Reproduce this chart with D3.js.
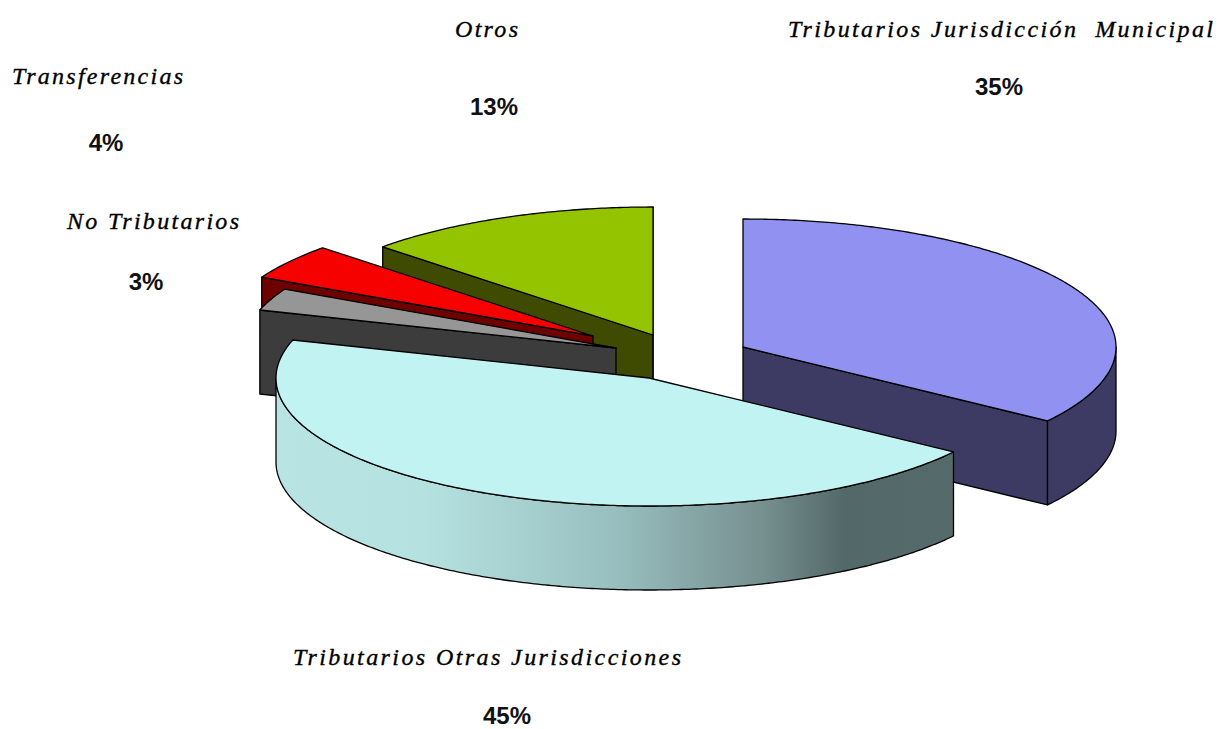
<!DOCTYPE html>
<html>
<head>
<meta charset="utf-8">
<script src="https://cdn.jsdelivr.net/npm/d3@7"></script>
<style>
  html, body { margin: 0; background: #fff; }
  .name { font: italic 24px "Liberation Serif", serif; white-space: pre; fill: #000; stroke: #000; stroke-width: 0.35px; }
  .pct  { font: bold 24px "Liberation Sans", Arial, sans-serif; fill: #111; text-anchor: middle; }
</style>
</head>
<body>
<div id="chart"></div>
<script>
// Valores
const categories = [
    'Tributarios Jurisdicción  Municipal',
    'Tributarios Otras Jurisdicciones',
    'No Tributarios',
    'Transferencias',
    'Otros'
];
const values   = [34.8, 45.0, 2.8, 4.5, 12.9];
const pctTexts = ['35%', '45%', '3%', '4%', '13%'];

const topColors  = ['#9191f2', '#c0f3f2', '#969696', '#f60000', '#94c300'];
const sideColors = ['#3d3b63', 'url(#wallCyan)', '#3c3c3c', '#6e0000', '#3f4b00'];

// Layout
const W = 1220, H = 729;
const RX = 373, RY = 128, DEPTH = 84;
const apex = [[743, 347], [649, 378], [616, 348], [593, 336], [653, 335]];
const namePos = [[788, 37], [293, 665], [67, 229], [12, 84], [455, 37]];
const nameLen = [425, 388, 172, 171, 63];
const pctPos  = [[999, 95], [507, 723.5], [146, 290], [106, 151], [494, 115]];

const svg = d3.select('#chart').append('svg')
    .attr('width', W).attr('height', H)
    .attr('viewBox', `0 0 ${W} ${H}`)
    .style('display', 'block');

// Degradado de la pared exterior celeste
const grad = svg.append('defs').append('linearGradient')
    .attr('id', 'wallCyan')
    .attr('gradientUnits', 'userSpaceOnUse')
    .attr('x1', 277).attr('x2', 953).attr('y1', 0).attr('y2', 0);
[[0, '#b9e4e4'], [0.22, '#b6e1e1'], [0.5, '#98bfbf'], [0.72, '#768f8f'], [0.84, '#536868'], [1, '#556a6a']]
    .forEach(([o, c]) => grad.append('stop').attr('offset', o).attr('stop-color', c));

const pie = d3.pie().sort(null).value(d => d)(values);

const sx = d3.scaleLinear().domain([-1, 1]).range([-RX, RX]);
const sy = d3.scaleLinear().domain([-1, 1]).range([-RY, RY]);
const line = d3.line();

function rim(c, a0, a1, dz = 0) {
    const n = Math.max(2, Math.ceil((a1 - a0) / 0.01));
    return d3.range(n + 1).map(i => {
        const a = a0 + (a1 - a0) * i / n;
        return [c[0] + sx(Math.sin(a)), c[1] + sy(-Math.cos(a)) + dz];
    });
}

function cutFace(c, a) {
    const [p] = rim(c, a, a + 1e-6);
    return [c, p, [p[0], p[1] + DEPTH], [c[0], c[1] + DEPTH]];
}

const slice = svg.append('g').attr('stroke', '#000').attr('stroke-width', 1.3).attr('stroke-linejoin', 'round');

// De atrás hacia adelante
[4, 3, 2, 0, 1].forEach(i => {
    const c = apex[i], a0 = pie[i].startAngle, a1 = pie[i].endAngle;
    const g = slice.append('g');

    // Caras de corte visibles
    if (Math.sin(a0) < 0) g.append('path').attr('d', line(cutFace(c, a0)) + 'Z').attr('fill', sideColors[i]);
    if (Math.sin(a1) > 0) g.append('path').attr('d', line(cutFace(c, a1)) + 'Z').attr('fill', sideColors[i]);

    // Pared exterior, solo entre 90° y 270°
    const w0 = Math.max(a0, Math.PI / 2), w1 = Math.min(a1, 3 * Math.PI / 2);
    if (w1 > w0) {
        const pts = rim(c, w0, w1).concat(rim(c, w0, w1, DEPTH).reverse());
        g.append('path').attr('d', line(pts) + 'Z').attr('fill', sideColors[i]);
    }

    // Cara superior
    g.append('path')
        .attr('d', line([c].concat(rim(c, a0, a1))) + 'Z')
        .attr('fill', topColors[i]);
});

svg.selectAll('text.name').data(categories).enter().append('text')
    .attr('class', 'name')
    .attr('x', (d, i) => namePos[i][0])
    .attr('y', (d, i) => namePos[i][1])
    .attr('textLength', (d, i) => nameLen[i])
    .attr('lengthAdjust', 'spacing')
    .text(d => d);

svg.selectAll('text.pct').data(pctTexts).enter().append('text')
    .attr('class', 'pct')
    .attr('x', (d, i) => pctPos[i][0])
    .attr('y', (d, i) => pctPos[i][1])
    .text(d => d);
</script>
</body>
</html>
